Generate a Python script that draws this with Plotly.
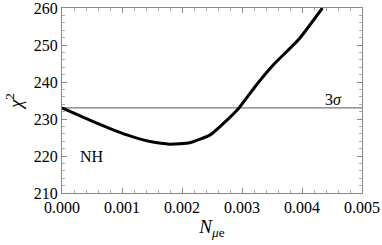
import plotly.graph_objects as go

n_mue = [0.0, 0.00052, 0.00108, 0.00147, 0.0018, 0.00213, 0.00247, 0.00269, 0.00295, 0.00324, 0.00352, 0.00394, 0.00434]
chi2 = [233.0, 229.3, 225.7, 223.9, 223.2, 223.6, 225.7, 228.8, 233.0, 239.2, 244.6, 251.4, 260.0]
sigma3 = 233.0
x_ticks = [0.000, 0.001, 0.002, 0.003, 0.004, 0.005]
x_ticklabels = ["0.000", "0.001", "0.002", "0.003", "0.004", "0.005"]
y_ticks = [210, 220, 230, 240, 250, 260]

font = "Liberation Serif, Times New Roman, serif"
fig = go.Figure()
fig.add_trace(go.Scatter(x=[0, 0.005], y=[sigma3, sigma3], mode="lines",
                         line=dict(color="#555555", width=1), showlegend=False))
fig.add_trace(go.Scatter(x=n_mue, y=chi2, mode="lines",
                         line=dict(color="black", width=3, shape="spline", smoothing=0.5),
                         showlegend=False))

axis_common = dict(showgrid=False, zeroline=False, showline=True, linecolor="#888888",
                   linewidth=1, mirror="ticks", ticks="inside", ticklen=5, tickcolor="#888888",
                   automargin=False)
fig.update_xaxes(range=[0, 0.005], tickmode="array", tickvals=x_ticks, ticktext=x_ticklabels,
                 ticklabeloverflow="allow",
                 minor=dict(ticks="inside", ticklen=3, dtick=0.0002, tickcolor="#aaaaaa"),
                 title_text="<i>N</i><sub><i>μ</i>e</sub>", title_standoff=4,
                 **axis_common)
fig.update_yaxes(range=[210, 260], tickmode="array", tickvals=y_ticks,
                 ticklabeloverflow="allow",
                 minor=dict(ticks="inside", ticklen=3, dtick=2, tickcolor="#aaaaaa"),
                 title_text="<i>χ</i><sup>2</sup>", title_standoff=6,
                 **axis_common)
fig.add_annotation(x=0.0005, y=219.8, text="NH", showarrow=False)
fig.add_annotation(x=0.00452, y=235.4, text="3<i>σ</i>", showarrow=False)
fig.update_layout(width=382, height=245, margin=dict(l=62, r=20, t=8, b=52, autoexpand=False),
                  font=dict(family=font, size=16, color="black"),
                  plot_bgcolor="white", paper_bgcolor="white")
fig.write_html("out.html", config={"displayModeBar": False},
               post_script="document.body.style.margin='0';document.body.style.overflow='hidden';")
